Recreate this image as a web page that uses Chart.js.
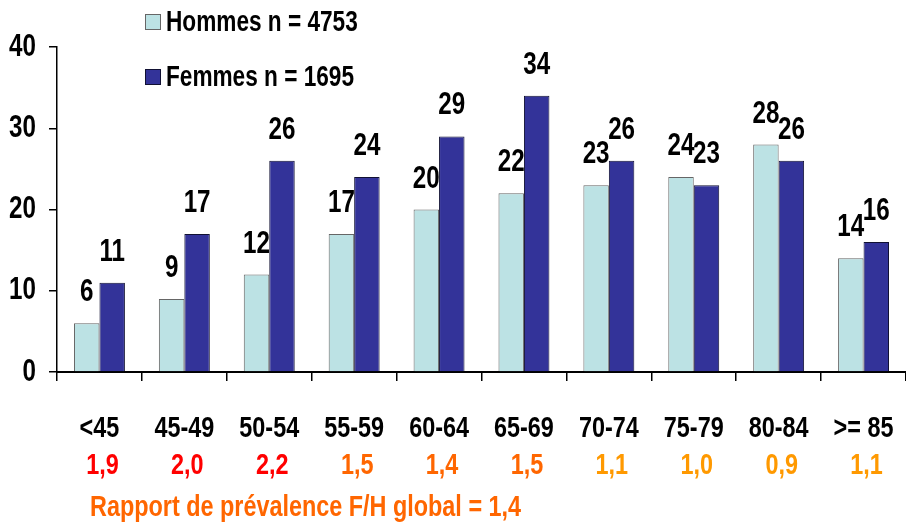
<!DOCTYPE html>
<html><head><meta charset="utf-8">
<script src="https://cdn.jsdelivr.net/npm/chart.js@4"></script>
<style>html,body{margin:0;padding:0;background:#fff;}#c{display:block;}</style>
</head><body>
<canvas id="c" width="906" height="529"></canvas>
<script>
const categories = ['<45','45-49','50-54','55-59','60-64','65-69','70-74','75-79','80-84','>= 85'];
const hommes = [6,9,12,17,20,22,23,24,28,14];
const femmes = [11,17,26,24,29,34,26,23,26,16];
const ratios = ['1,9','2,0','2,2','1,5','1,4','1,5','1,1','1,0','0,9','1,1'];
const ratioColors = ['#FF0000','#FF0000','#FF0000','#FF6600','#FF6600','#FF6600','#FF9900','#FF9900','#FF9900','#FF9900'];
const legendLabels = ['Hommes n = 4753','Femmes n = 1695'];
const footnote = 'Rapport de prévalence F/H global = 1,4';
const yMin = 0, yMax = 40, yStep = 10;

const FONT = "'Liberation Sans',Arial,Helvetica,sans-serif";
const NARROW = 0.78; // imitate a narrow (condensed) typeface

const canvas = document.getElementById('c');
const ctx0 = canvas.getContext('2d');
const origFillText = ctx0.fillText.bind(ctx0);
ctx0.fillText = function (t, x, y, mw) {
  const w = this.measureText(t).width * NARROW;
  return origFillText(t, x, y, mw !== undefined ? Math.min(mw, w) : w);
};

const overlay = {
  id: 'overlay',
  afterDraw(chart) {
    const ctx = chart.ctx;
    const x = chart.scales.x;
    const area = chart.chartArea;
    ctx.save();
    // value labels
    ctx.font = 'bold 31px ' + FONT;
    ctx.fillStyle = '#000';
    ctx.textAlign = 'center';
    ctx.textBaseline = 'alphabetic';
    chart.data.datasets.forEach((ds, di) => {
      const meta = chart.getDatasetMeta(di);
      meta.data.forEach((bar, i) => {
        ctx.fillText(String(ds.data[i]), bar.x, bar.y - 22);
      });
    });
    // ratio labels
    ctx.textBaseline = 'middle';
    ctx.font = 'bold 30px ' + FONT;
    ratios.forEach((r, i) => {
      ctx.fillStyle = ratioColors[i];
      ctx.fillText(r, x.getPixelForValue(i) + 3, area.bottom + 94);
    });
    // footnote
    ctx.textAlign = 'left';
    ctx.fillStyle = '#FF6600';
    ctx.font = 'bold 30px ' + FONT;
    ctx.fillText(footnote, 90, area.bottom + 136);
    // legend
    ctx.font = 'bold 29px ' + FONT;
    chart.data.datasets.forEach((ds, di) => {
      const cy = 22 + di * 55;
      ctx.fillStyle = ds.backgroundColor;
      ctx.fillRect(145, cy - 8, 16, 16);
      ctx.strokeStyle = ds.borderColor;
      ctx.lineWidth = 1;
      ctx.strokeRect(145.5, cy - 7.5, 15, 15);
      ctx.fillStyle = '#000';
      ctx.fillText(legendLabels[di], 166, cy + 1);
    });
    ctx.restore();
  }
};

new Chart(canvas, {
  type: 'bar',
  data: {
    labels: categories,
    datasets: [
      { label: legendLabels[0], data: hommes, backgroundColor: '#BCE2E4', borderColor: '#666666', borderWidth: 1, categoryPercentage: 0.6, barPercentage: 1.0 },
      { label: legendLabels[1], data: femmes, backgroundColor: '#333399', borderColor: '#111133', borderWidth: 1, categoryPercentage: 0.6, barPercentage: 1.0 }
    ]
  },
  options: {
    responsive: false,
    animation: false,
    layout: { padding: { top: 47, right: 0, left: 0, bottom: 0 } },
    plugins: { legend: { display: false }, tooltip: { enabled: false } },
    scales: {
      x: {
        afterFit(s) { s.height = 157; s.paddingLeft = 0; s.paddingRight = 0; },
        grid: { offset: true, drawOnChartArea: false, drawTicks: true, tickLength: 9, color: '#000', lineWidth: 1.5 },
        border: { color: '#000', width: 2 },
        ticks: { color: '#000', font: { family: FONT, size: 30, weight: 'bold' }, padding: 30, maxRotation: 0, autoSkip: false }
      },
      y: {
        min: yMin, max: yMax,
        afterFit(s) { s.width = 57; },
        grid: { drawOnChartArea: false, drawTicks: true, tickLength: 8, color: '#000', lineWidth: 1.5 },
        border: { color: '#000', width: 1.5 },
        ticks: { stepSize: yStep, color: '#000', font: { family: FONT, size: 31, weight: 'bold' }, padding: 13 }
      }
    }
  },
  plugins: [overlay]
});
</script>
</body></html>
